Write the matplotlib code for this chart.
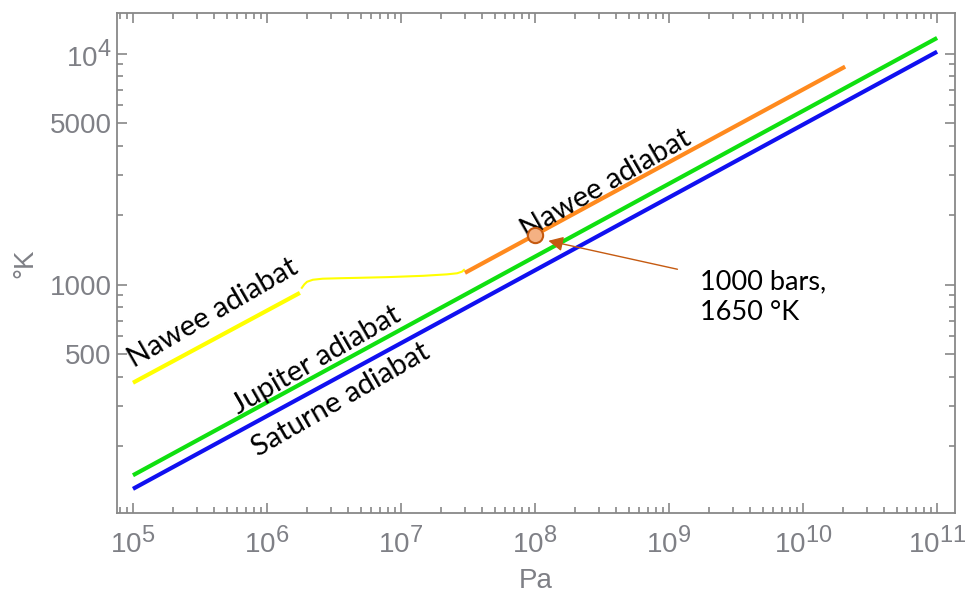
import matplotlib
matplotlib.use("Agg")
import matplotlib.pyplot as plt
import matplotlib._mathtext as mtext
from matplotlib.ticker import FixedLocator, FixedFormatter, NullFormatter

# adiabats (P in Pa, T in K)
saturn_P = [1e5, 1e11]
saturn_T = [131, 10200]
jupiter_P = [1e5, 1e11]
jupiter_T = [150, 11700]
nawee_low_P = [1e5, 1.76e6]
nawee_low_T = [377, 923]
nawee_mid_P = [1.82e6, 1.9e6, 1.99e6, 2.2e6, 2.6e6, 3.5e6, 4.7e6, 8e6, 1.46e7, 2.2e7, 2.62e7, 2.85e7, 2.95e7]
nawee_mid_T = [971, 1005, 1031, 1052, 1063, 1068, 1072, 1080, 1094, 1110, 1122, 1140, 1160]
nawee_high_P = [3.0e7, 2.06e10]
nawee_high_T = [1127, 8790]
point_P, point_T = 1e8, 1650

x_major = [1e5, 1e6, 1e7, 1e8, 1e9, 1e10, 1e11]
x_major_labels = ["$10^{%d}$" % e for e in range(5, 12)]
x_minor = [m * 10.0**e for e in range(4, 11) for m in range(2, 10)]
y_major = [500, 1000, 5000, 10000]
y_major_labels = ["500", "1000", "5000", "$10^{4}$"]
y_minor = [200, 300, 400, 600, 700, 800, 900, 2000, 3000, 4000, 6000, 7000, 8000, 9000]

plt.rcParams["mathtext.fontset"] = "custom"
plt.rcParams["mathtext.rm"] = "Liberation Sans"
plt.rcParams["mathtext.default"] = "regular"
mtext.SHRINK_FACTOR = 0.85  # exponents almost full size, like the reference

GRAY = "#888888"
TICK_TXT = "#7f8086"
ANN = "#C55A11"

fig = plt.figure(figsize=(9.66, 5.96), dpi=100)
ax = fig.add_axes([117/966, 83/596, 838/966, 500/596])
ax.set_xscale("log"); ax.set_yscale("log")

ax.plot(saturn_P, saturn_T, color="#1010f0", lw=3, solid_capstyle="butt")
ax.plot(jupiter_P, jupiter_T, color="#10e010", lw=3, solid_capstyle="butt")
ax.plot(nawee_low_P, nawee_low_T, color="#ffff00", lw=3, solid_capstyle="butt")
ax.plot(nawee_mid_P, nawee_mid_T, color="#ffff00", lw=1.5)
ax.plot(nawee_high_P, nawee_high_T, color="#ff8a1e", lw=3, solid_capstyle="butt")
ax.plot([point_P], [point_T], "o", ms=11, mfc="#F4B183", mec=ANN, mew=1.5, zorder=5)

ax.set_xlim(7.6e4, 1.36e11)
ax.set_ylim(103, 15000)

ax.xaxis.set_major_locator(FixedLocator(x_major))
ax.xaxis.set_major_formatter(FixedFormatter(x_major_labels))
ax.xaxis.set_minor_locator(FixedLocator(x_minor))
ax.xaxis.set_minor_formatter(NullFormatter())
ax.yaxis.set_major_locator(FixedLocator(y_major))
ax.yaxis.set_major_formatter(FixedFormatter(y_major_labels))
ax.yaxis.set_minor_locator(FixedLocator(y_minor))
ax.yaxis.set_minor_formatter(NullFormatter())

ax.tick_params(which="both", direction="in", top=True, right=True, color=GRAY, width=1.2)
ax.tick_params(which="major", length=7, labelsize=20, labelcolor=TICK_TXT)
ax.tick_params(which="minor", length=4)
ax.tick_params(axis="x", which="major", pad=10)
ax.tick_params(axis="y", which="major", pad=4)
for lab in ax.get_xticklabels() + ax.get_yticklabels():
    lab.set_fontfamily("Liberation Sans")
for s in ax.spines.values():
    s.set_color(GRAY); s.set_linewidth(1.3)

ax.set_xlabel("Pa", fontsize=20, color=TICK_TXT, family="Liberation Sans", labelpad=6)
ax.set_ylabel("°K", fontsize=20, color=TICK_TXT, family="Liberation Sans", labelpad=8)

lab_kw = dict(transform=ax.transAxes, fontsize=21, family="Lato", rotation=30,
              rotation_mode="anchor", ha="center", va="center", color="black")
ax.text(0.1146, 0.400, "Nawee adiabat", **lab_kw)
ax.text(0.2387, 0.306, "Jupiter adiabat", **lab_kw)
ax.text(0.2670, 0.226, "Saturne adiabat", **lab_kw)
ax.text(0.5835, 0.658, "Nawee adiabat", **lab_kw)

ax.annotate("", xy=(1.2e8, 1560), xytext=(1.21e9, 1161),
            arrowprops=dict(arrowstyle="-|>", color=ANN, lw=1, mutation_scale=22))
ax.text(0.696, 0.488, "1000 bars,\n1650 °K", transform=ax.transAxes, fontsize=19.5,
        family="Lato", ha="left", va="top", linespacing=1.3)

fig.savefig("out.png", dpi=100)
